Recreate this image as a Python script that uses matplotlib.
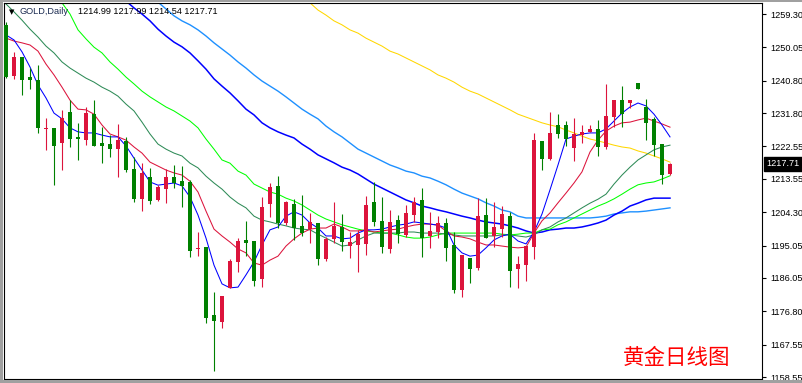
import numpy as np
import matplotlib
matplotlib.use('Agg')
import matplotlib.pyplot as plt
from matplotlib.transforms import blended_transform_factory
from matplotlib.patches import Rectangle

plt.rcParams['font.family'] = ['Liberation Sans', 'DejaVu Sans']

# daily OHLC, oldest first
opens = [1256.25, 1242.09, 1247.37, 1241.82, 1240.99, 1227.39, 1227.66, 1223.50, 1232.10, 1225.16,
         1224.33, 1231.55, 1223.50, 1223.22, 1221.83, 1224.06, 1216.28, 1207.95, 1214.07, 1207.68,
         1210.73, 1214.07, 1212.95, 1212.68, 1194.08, 1194.63, 1175.76, 1173.82, 1183.26, 1190.47,
         1196.58, 1196.30, 1185.75, 1206.57, 1211.57, 1201.30, 1206.57, 1200.46, 1199.63, 1201.30,
         1191.30, 1196.86, 1200.19, 1194.91, 1195.19, 1195.47, 1207.12, 1201.85, 1194.08, 1202.13,
         1197.97, 1203.52, 1207.68, 1197.69, 1198.80, 1201.30, 1195.19, 1182.70, 1191.58, 1188.81,
         1203.52, 1197.69, 1199.63, 1203.24, 1188.53, 1189.64, 1194.63, 1224.06, 1219.06, 1228.50,
         1228.50, 1222.11, 1225.72, 1226.55, 1227.39, 1222.39, 1230.72, 1235.43, 1234.60, 1240.15,
         1233.49, 1230.16, 1223.22, 1214.99]
highs = [1257.08, 1248.76, 1247.40, 1244.32, 1245.15, 1230.44, 1227.70, 1232.66, 1235.43, 1229.05,
         1233.49, 1235.43, 1227.94, 1225.72, 1228.77, 1225.16, 1219.62, 1217.95, 1216.56, 1211.85,
         1216.28, 1217.39, 1217.12, 1213.23, 1198.80, 1194.70, 1182.14, 1181.10, 1191.30, 1197.13,
         1201.85, 1196.40, 1208.51, 1212.40, 1214.34, 1207.40, 1207.95, 1209.07, 1204.07, 1201.40,
         1197.41, 1207.12, 1203.79, 1198.80, 1199.36, 1208.79, 1212.68, 1208.51, 1204.90, 1203.52,
         1206.29, 1208.51, 1211.01, 1204.35, 1203.24, 1202.68, 1198.80, 1192.50, 1191.60, 1208.24,
         1208.24, 1207.12, 1206.02, 1204.35, 1192.14, 1195.00, 1226.27, 1224.10, 1232.10, 1231.55,
         1229.61, 1230.44, 1228.50, 1228.50, 1229.89, 1239.88, 1235.50, 1239.32, 1235.50, 1240.15,
         1235.71, 1230.72, 1223.30, 1217.99]
lows = [1241.54, 1241.27, 1236.82, 1238.49, 1226.27, 1221.56, 1211.85, 1216.04, 1222.39, 1218.78,
        1222.95, 1222.60, 1217.95, 1219.62, 1214.07, 1215.45, 1207.12, 1204.62, 1206.57, 1207.40,
        1206.85, 1211.01, 1205.74, 1191.86, 1192.14, 1173.54, 1160.22, 1172.15, 1183.20, 1187.69,
        1192.14, 1183.81, 1183.53, 1202.96, 1199.91, 1200.74, 1196.58, 1197.69, 1195.74, 1189.64,
        1190.75, 1195.74, 1193.53, 1191.58, 1187.69, 1192.42, 1200.46, 1192.97, 1192.97, 1195.74,
        1197.41, 1201.57, 1191.86, 1194.36, 1197.13, 1190.75, 1181.87, 1180.76, 1184.64, 1188.25,
        1197.00, 1194.63, 1197.41, 1183.53, 1183.26, 1185.20, 1191.30, 1216.04, 1218.78, 1224.89,
        1222.67, 1218.50, 1223.50, 1226.50, 1219.89, 1221.83, 1227.94, 1227.94, 1233.22, 1238.49,
        1224.33, 1219.89, 1212.12, 1214.54]
closes = [1241.82, 1247.37, 1240.99, 1240.99, 1227.66, 1227.66, 1222.67, 1230.44, 1224.61, 1224.61,
          1231.83, 1222.67, 1222.67, 1221.83, 1224.33, 1216.04, 1207.95, 1215.17, 1207.40, 1211.29,
          1214.07, 1212.40, 1211.57, 1193.53, 1194.36, 1174.93, 1174.10, 1181.04, 1190.75, 1196.30,
          1195.74, 1185.20, 1205.74, 1211.29, 1201.30, 1207.12, 1199.91, 1198.52, 1201.57, 1191.30,
          1196.86, 1200.46, 1196.02, 1196.02, 1198.24, 1206.29, 1201.57, 1194.63, 1201.57, 1198.24,
          1204.07, 1207.12, 1197.13, 1199.08, 1201.30, 1194.36, 1182.70, 1192.42, 1188.53, 1203.24,
          1197.13, 1200.19, 1203.79, 1187.97, 1189.92, 1194.91, 1224.33, 1219.06, 1226.27, 1226.00,
          1224.61, 1226.00, 1226.55, 1227.39, 1222.39, 1231.00, 1235.43, 1231.55, 1235.43, 1238.49,
          1229.05, 1222.95, 1214.62, 1217.71]

# moving averages (each series ends at the last bar)
ma_fast = [1253.5, 1252.1, 1248.8, 1244.6, 1239.6, 1236.0, 1231.8, 1230.2, 1227.7, 1226.6,
           1226.3, 1226.3, 1225.7, 1225.2, 1225.2, 1222.7, 1219.3, 1216.0, 1212.7, 1211.8,
           1212.1, 1212.4, 1211.6, 1208.5, 1203.5, 1197.1, 1189.6, 1184.4, 1183.3, 1183.5,
           1186.9, 1190.5, 1195.2, 1199.4, 1200.2, 1203.2, 1204.4, 1203.5, 1201.3, 1199.9,
           1197.7, 1197.7, 1196.9, 1197.1, 1198.5, 1199.4, 1199.4, 1199.6, 1200.2, 1200.7,
           1201.0, 1201.6, 1201.3, 1201.0, 1200.7, 1199.9, 1195.2, 1193.0, 1192.1, 1192.4,
           1194.4, 1196.6, 1197.7, 1198.2, 1196.3, 1195.5, 1198.8, 1203.8, 1210.5, 1217.4,
           1224.6, 1225.4, 1226.0, 1226.3, 1226.3, 1227.4, 1229.6, 1231.8, 1233.5, 1234.6,
           1233.8, 1231.5, 1228.5, 1225.2]
ma_red = [1252.6, 1251.8, 1251.3, 1250.7, 1249.0, 1245.4, 1242.4, 1239.0, 1235.4, 1232.9,
          1232.7, 1231.5, 1228.5, 1226.0, 1225.2, 1224.3, 1222.4, 1220.7, 1218.2, 1217.1,
          1216.0, 1215.2, 1214.6, 1212.9, 1209.9, 1204.6, 1199.6, 1197.7, 1196.0, 1194.1,
          1193.0, 1190.2, 1189.6, 1191.0, 1192.1, 1194.9, 1196.9, 1198.5, 1199.6, 1199.9,
          1199.9, 1201.0, 1200.2, 1199.1, 1199.1, 1199.4, 1198.8, 1199.1, 1199.4, 1199.6,
          1200.2, 1200.7, 1201.0, 1201.0, 1200.7, 1199.1, 1197.7, 1197.4, 1196.9, 1196.0,
          1195.2, 1195.2, 1194.9, 1194.6, 1194.4, 1194.6, 1198.5, 1201.9, 1204.1, 1206.9,
          1209.6, 1212.4, 1215.5, 1221.0, 1224.3, 1226.8, 1228.2, 1229.1, 1229.3, 1229.9,
          1230.4, 1229.6, 1228.8, 1227.9]
ma_sea = [1262.1, 1259.9, 1257.6, 1255.1, 1252.9, 1250.4, 1248.5, 1246.0, 1244.3, 1242.9,
          1241.5, 1240.4, 1239.0, 1237.9, 1236.5, 1234.3, 1232.4, 1229.3, 1226.0, 1223.2,
          1221.8, 1220.7, 1219.9, 1217.9, 1216.6, 1214.3, 1212.4, 1210.7, 1208.5, 1206.8,
          1205.5, 1203.2, 1202.1, 1201.6, 1201.0, 1200.5, 1199.9, 1199.6, 1199.4, 1198.2,
          1197.1, 1196.0, 1194.9, 1195.2, 1196.6, 1197.7, 1198.5, 1198.5, 1198.5, 1198.5,
          1198.8, 1198.8, 1198.5, 1198.5, 1198.5, 1198.2, 1198.0, 1197.7, 1197.7, 1197.7,
          1197.7, 1197.7, 1198.0, 1198.0, 1197.7, 1197.4, 1198.0, 1199.4, 1200.2, 1201.6,
          1202.7, 1204.1, 1205.5, 1206.8, 1207.9, 1209.3, 1212.1, 1214.6, 1216.8, 1218.8,
          1220.2, 1221.6, 1222.4, 1222.9]
ma_lime = [1266.5, 1262.4, 1259.3, 1254.9, 1252.4, 1250.1, 1248.5, 1246.0, 1244.0, 1241.8,
           1239.9, 1237.9, 1236.3, 1234.9, 1233.5, 1232.4, 1231.0, 1229.6, 1227.7, 1224.6,
           1221.8, 1218.8, 1217.9, 1215.7, 1214.6, 1212.1, 1211.0, 1209.9, 1209.3, 1208.2,
           1207.4, 1206.3, 1204.9, 1203.5, 1202.4, 1201.6, 1200.8, 1200.2, 1199.6, 1199.1,
           1198.8, 1198.5, 1198.5, 1198.0, 1197.4, 1197.1, 1197.1, 1197.4, 1198.0, 1198.5,
           1198.5, 1198.5, 1198.5, 1198.5, 1198.5, 1198.5, 1198.2, 1198.0, 1198.2, 1198.5,
           1198.5, 1199.4, 1199.6, 1200.8, 1201.6, 1202.7, 1203.8, 1204.9, 1206.0, 1206.9,
           1208.0, 1209.3, 1210.7, 1211.9, 1212.4, 1212.7, 1213.5, 1214.4]
ma_blue = [1262.9, 1261.0, 1259.3, 1257.4, 1255.1, 1253.2, 1251.5, 1250.2, 1248.5, 1246.3,
           1244.0, 1241.3, 1239.3, 1237.4, 1235.2, 1232.9, 1231.3, 1229.1, 1227.7, 1226.6,
           1225.7, 1224.9, 1223.2, 1221.8, 1220.2, 1219.1, 1218.0, 1216.8, 1216.0, 1214.9,
           1213.5, 1212.1, 1211.0, 1209.9, 1208.8, 1207.7, 1206.9, 1206.0, 1205.5, 1204.9,
           1204.4, 1203.8, 1203.2, 1202.7, 1202.1, 1201.6, 1201.3, 1201.0, 1200.5, 1199.9,
           1199.1, 1198.5, 1198.8, 1199.4, 1199.6, 1199.9, 1199.9, 1200.2, 1200.7, 1201.3,
           1202.1, 1203.5, 1204.6, 1206.0, 1206.8, 1207.7, 1208.2, 1208.2, 1208.2]
ma_dodger = [1262.6, 1260.7, 1258.8, 1257.4, 1256.3, 1254.9, 1253.2, 1251.3, 1249.6, 1247.9,
             1246.0, 1244.3, 1242.4, 1240.7, 1239.3, 1237.9, 1236.3, 1234.6, 1232.9, 1231.5,
             1230.2, 1228.2, 1226.6, 1225.2, 1223.5, 1221.8, 1220.7, 1219.6, 1218.5, 1217.4,
             1216.6, 1215.7, 1215.2, 1214.3, 1213.8, 1212.9, 1211.9, 1210.7, 1209.6, 1208.8,
             1208.0, 1206.9, 1206.0, 1204.9, 1204.4, 1203.2, 1202.7, 1202.7, 1202.7, 1202.7,
             1202.7, 1202.7, 1202.7, 1202.7, 1202.7, 1202.9, 1203.2, 1203.8, 1204.1, 1204.4,
             1204.4, 1204.6, 1204.9, 1205.2, 1205.5]
ma_gold = [1262.4, 1260.4, 1259.0, 1257.4, 1256.3, 1254.9, 1254.0, 1252.6, 1251.5, 1250.4,
           1249.0, 1248.2, 1247.1, 1246.0, 1244.9, 1243.8, 1242.4, 1241.5, 1240.4, 1239.0,
           1237.9, 1237.1, 1236.0, 1234.9, 1233.8, 1232.7, 1231.5, 1230.7, 1229.9, 1229.1,
           1228.5, 1228.0, 1227.1, 1226.3, 1225.4, 1224.6, 1224.1, 1223.5, 1222.9, 1222.4,
           1222.1, 1221.3, 1220.7, 1219.9, 1219.1, 1218.2]

price_ticks = [1259.30, 1250.05, 1240.80, 1231.80, 1222.55, 1213.55, 1204.30,
               1195.05, 1186.05, 1176.80, 1167.55, 1158.55]
last_price = closes[-1]
header_symbol = 'GOLD,Daily'
title_cn = '黄金日线图'

W, H = 803, 383
fig = plt.figure(figsize=(W / 100, H / 100), dpi=100)
fig.patch.set_facecolor('white')
ax = fig.add_axes([4 / W, 4 / H, 758 / W, 376 / H])

n = len(closes)
x = np.arange(n)
o = np.array(opens)
c = np.array(closes)
colors = np.where(c >= o, '#DC143C', '#008000')

ma_list = [(ma_gold, '#FFD700', 0.75), (ma_dodger, '#1E90FF', 1.0),
           (ma_blue, '#0000FF', 1.1), (ma_lime, '#00FF00', 0.75),
           (ma_sea, '#2E8B57', 0.75), (ma_red, '#DC143C', 0.75),
           (ma_fast, '#0000FF', 0.75)]
for vals, col, lw in ma_list:
    xs = np.arange(n - len(vals), n)
    ax.plot(xs, vals, color=col, lw=lw, zorder=2)

ax.vlines(x, lows, highs, colors=colors, lw=0.8, zorder=3)
ax.bar(x, np.maximum(np.abs(c - o), 0.3), bottom=np.minimum(o, c), width=0.62,
       color=colors, linewidth=0, zorder=4)

ax.set_xlim(-0.25, 94.5)
ax.set_ylim(1158.0, 1262.36)
ax.set_xticks([])
ax.yaxis.tick_right()
ax.set_yticks(price_ticks)
ax.set_yticklabels(['%.2f' % v for v in price_ticks])
ax.tick_params(axis='y', direction='out', length=3, width=0.8, pad=3,
               labelsize=6.6, colors='black')
for s in ax.spines.values():
    s.set_linewidth(0.8)
    s.set_color('black')

trans = blended_transform_factory(ax.transAxes, ax.transData)
ax.text(1.0055, last_price, '%.2f' % last_price, transform=trans, ha='left', va='center',
        color='white', fontsize=6.6,
        bbox=dict(boxstyle='square,pad=0.25', fc='black', ec='black'))

fig.text(12 / W, 1 - 12 / H, '▼', family=['DejaVu Sans'], fontsize=5,
         ha='center', va='center', color='black')
fig.text(20 / W, 1 - 12 / H, header_symbol, fontsize=6.6, va='center', color='#1a2a50')
fig.text(78 / W, 1 - 12 / H, ' '.join('%.2f' % v for v in
         [opens[-1], highs[-1], lows[-1], closes[-1]]),
         fontsize=6.6, va='center', color='black')

fig.text(677 / W, 1 - 358 / H, title_cn, family=['Noto Sans CJK SC'], fontsize=15.5,
         color='red', ha='center', va='center')

# window frame
fig.add_artist(Rectangle((0, 1 - 2 / H), 1, 2 / H, transform=fig.transFigure,
                         color='#a0a0a0', lw=0))
fig.add_artist(Rectangle((0, 0), 3 / W, 1, transform=fig.transFigure,
                         color='#a0a0a0', lw=0))
fig.add_artist(Rectangle((0, 0), 1, 3 / H, transform=fig.transFigure,
                         color='#a0a0a0', lw=0))

fig.savefig('out.png', dpi=100)
